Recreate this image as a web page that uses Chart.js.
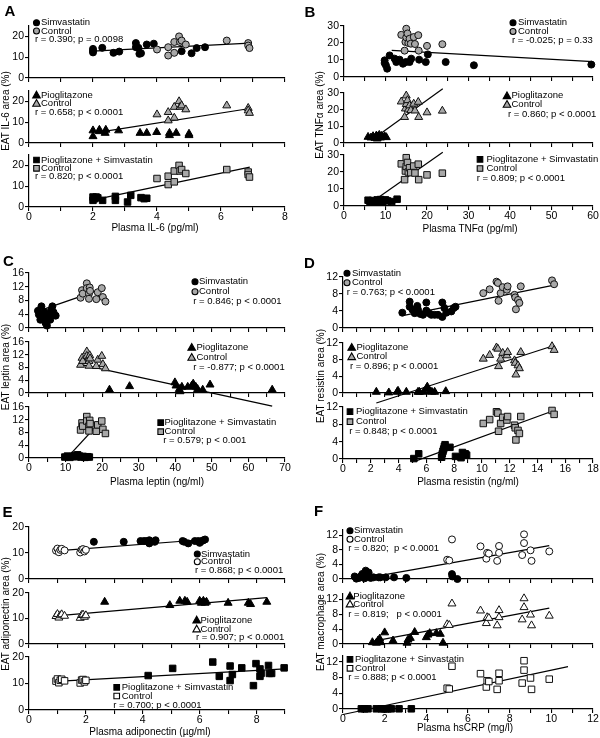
<!DOCTYPE html>
<html>
<head>
<meta charset="utf-8">
<script src="https://cdn.jsdelivr.net/npm/chart.js@4.4.1/dist/chart.umd.min.js"></script>
<style>
  body { margin: 0; width: 600px; height: 738px; background: #fff; position: relative; overflow: hidden;
         font-family: "Liberation Sans", Arial, sans-serif; color: #000; }
  canvas { position: absolute; }
  .txt { position: absolute; white-space: nowrap; font-size: 10px; line-height: 1; transform: translate(-50%, -50%); }
  .ytl { transform: translate(-50%, -50%) rotate(-90deg); }
  .letter { font-weight: bold; font-size: 15px; }
</style>
</head>
<body>
<script>
// ---- A: IL-6 ----
const ilCtrlX = [4.0, 4.35, 4.35, 4.54, 4.54, 4.69, 4.72, 4.77, 4.9, 6.18, 6.85, 6.85, 6.89];
const ilCtrlY = [13.7, 10.8, 14.8, 12.1, 17.3, 20.0, 17.3, 18.0, 16.1, 18.0, 16.8, 15.6, 14.4];
const ilSimX = [2.0, 2.0, 2.0, 2.29, 2.64, 2.82, 3.34, 3.34, 3.42, 3.45, 3.5, 3.68, 3.9, 4.77, 5.08, 5.24, 5.5];
const ilSimY = [14.0, 13.0, 12.3, 14.5, 12.1, 12.7, 16.8, 14.8, 14.5, 11.6, 11.9, 16.1, 16.5, 12.9, 11.9, 14.4, 14.8];
const ilPioX = [2.0, 2.0, 2.2, 2.2, 2.38, 2.4, 2.8, 3.47, 3.68, 3.99, 4.39, 4.39, 4.6, 5.0, 5.0];
const ilPioY = [6.0, 3.2, 5.6, 6.3, 4.8, 6.3, 6.0, 4.8, 4.8, 5.2, 4.8, 3.7, 4.8, 4.4, 3.7];
const ilPsX = [2.0, 2.0, 2.05, 2.1, 2.15, 2.3, 2.7, 2.7, 3.08, 3.18, 3.5, 3.6, 3.68];
const ilPsY = [4.8, 3.2, 4.0, 4.8, 4.4, 3.2, 5.1, 3.2, 2.4, 5.6, 4.5, 4.0, 4.2];
const ilFit = [[2.0, 12.9, 6.9, 16.8], [2.3, 5.5, 6.9, 16.6], [2.2, 4.0, 6.9, 19.2]];
const ilStats = ["r = 0.390; p = 0.0098", "r = 0.658; p < 0.0001", "r = 0.820; p < 0.0001"];
const ilXTicks = [0, 1, 2, 3, 4, 5, 6, 7, 8];
const ilXLabels = [0, 2, 4, 6, 8];
const ilYTicks = [0, 10, 20];

// ---- B: TNF-alpha ----
const tnCtrlX = [13.8, 14.6, 14.8, 15.0, 15.0, 15.3, 15.5, 15.8, 16.1, 16.8, 17.1, 17.9, 18.0, 20.0, 23.7];
const tnCtrlY = [24.8, 15.5, 20.6, 28.4, 23.3, 25.6, 20.0, 22.5, 19.6, 23.5, 19.4, 24.6, 15.5, 18.3, 19.3];
const tnSimX = [9.8, 9.8, 10.1, 10.4, 11.0, 12.2, 12.6, 13.4, 14.2, 14.9, 15.8, 16.2, 18.1, 19.7, 20.2, 24.5, 31.3, 59.6];
const tnSimY = [9.8, 8.2, 6.9, 4.9, 12.7, 10.8, 8.8, 10.2, 7.8, 8.8, 8.8, 10.8, 10.2, 8.8, 13.3, 8.8, 6.9, 7.3];
const tnPioX = [5.8, 6.5, 7.0, 7.5, 7.8, 8.0, 8.2, 8.5, 8.8, 9.0, 9.3, 9.8, 10.2];
const tnPioY = [3.6, 3.2, 4.0, 3.0, 4.4, 2.6, 3.8, 4.8, 3.2, 4.2, 3.6, 4.0, 3.4];
const tnPsX = [5.8, 6.2, 6.8, 7.5, 8.0, 8.3, 8.8, 9.2, 9.6, 10.0, 10.5, 11.5, 12.8];
const tnPsY = [3.4, 2.8, 3.2, 2.2, 3.6, 2.8, 3.8, 2.4, 3.2, 3.6, 3.0, 2.6, 4.0];
const tnFit = [[11.5, 15.7, 60, 9.0], [6.5, 1.5, 23.8, 32.5], [5.6, 0.4, 23.8, 31.6]];
const tnStats = ["r = -0.025; p = 0.33", "r = 0.860; p < 0.0001", "r = 0.809; p < 0.0001"];
const tnXTicks = [0, 5, 10, 15, 20, 25, 30, 35, 40, 45, 50, 55, 60];
const tnXLabels = [0, 10, 20, 30, 40, 50, 60];
const tnYTicks = [0, 10, 20, 30];

// ---- C: leptin ----
const lpCtrlX = [14.1, 14.5, 14.7, 15.8, 15.8, 16.4, 16.4, 16.6, 16.7, 18.4, 18.8, 19.9, 20.2, 20.9];
const lpCtrlY = [8.8, 11.0, 10.0, 13.0, 11.6, 10.0, 8.5, 11.8, 10.8, 8.4, 10.4, 11.6, 9.0, 7.7];
const lpSimX = [2.45, 3.4, 2.7, 3.1, 3.8, 4.3, 4.5, 4.9, 4.7, 5.5, 5.8, 6.1, 6.4, 6.7, 7.3, 3.4];
const lpSimY = [5.0, 6.3, 3.9, 2.4, 3.4, 4.6, 1.5, 0.7, 2.9, 3.9, 2.4, 5.3, 6.3, 4.6, 3.6, 3.6];
const lpPioX = [22.0, 27.5, 39.9, 40.2, 41.1, 41.3, 41.8, 43.4, 44.5, 44.9, 45.6, 46.1, 47.5, 49.5, 66.5];
const lpPioY = [1.0, 2.1, 3.3, 2.3, 1.2, 0.5, 1.9, 1.9, 2.3, 2.9, 1.9, 1.2, 1.0, 2.6, 1.0];
const lpPsX = [9.8, 10.5, 11.2, 12.0, 12.5, 13.0, 13.3, 13.8, 14.2, 14.8, 15.3, 16.0, 16.5];
const lpPsY = [0.3, 0.6, 0.2, 0.5, 0.8, 0.4, 1.0, 0.6, 0.3, 0.5, 0.2, 0.4, 0.3];
const lpFit = [[2.5, 4.9, 20.7, 11.6], [14.0, 9.0, 66.5, -4.1], [10.2, -0.2, 20.0, 12.0]];
const lpStats = ["r = 0.846; p < 0.0001", "r = -0.877; p < 0.0001", "r = 0.579; p < 0.001"];
const lpXTicks = [0, 5, 10, 15, 20, 25, 30, 35, 40, 45, 50, 55, 60, 65, 70];
const lpXLabels = [0, 10, 20, 30, 40, 50, 60, 70];
const lpYTicks = [0, 4, 8, 12, 16];

// ---- D: resistin ----
const rsCtrlX = [10.1, 10.56, 11.05, 11.15, 11.2, 11.35, 11.5, 11.8, 11.85, 12.35, 12.4, 12.45, 12.6, 12.7, 12.8, 15.05, 15.2];
const rsCtrlY = [8.2, 9.1, 10.9, 10.6, 6.4, 8.2, 9.6, 9.0, 9.8, 7.8, 7.2, 4.4, 6.6, 5.9, 9.8, 11.2, 10.3];
const rsSimX = [4.27, 4.8, 4.8, 5.0, 5.16, 5.35, 5.4, 5.57, 5.76, 6.0, 6.0, 6.19, 6.36, 6.6, 6.84, 7.15, 7.15, 7.3, 7.44, 7.8, 7.97, 8.1];
const rsSimY = [3.6, 6.2, 5.0, 4.3, 3.5, 5.2, 4.3, 3.3, 3.1, 6.0, 4.1, 3.5, 3.1, 3.1, 3.1, 2.6, 6.0, 4.7, 3.6, 3.9, 4.7, 5.0];
const rsPioX = [2.4, 3.3, 3.9, 3.96, 4.56, 5.4, 5.5, 5.8, 6.0, 6.07, 6.24, 6.4, 6.6, 7.4];
const rsPioY = [0.25, 0.1, 0.25, 0.5, 0.25, 0.25, 0.25, 0.25, 1.0, 1.5, 0.4, 0.25, 0.25, 0.4];
const rsPsX = [5.1, 5.45, 7.1, 7.15, 7.2, 7.25, 7.3, 7.35, 7.7, 8.1, 8.5, 8.6, 8.8, 8.9];
const rsPsY = [0.1, 1.2, 0.4, 1.2, 1.8, 2.3, 2.9, 3.3, 2.7, 0.6, 0.3, 1.5, 1.2, 0.9];
const rsFit = [[4.3, 2.9, 15.2, 10.1], [2.4, -2.4, 15.2, 11.4], [5.2, -0.5, 15.2, 11.2]];
const rsStats = ["r = 0.763; p < 0.0001", "r = 0.896; p < 0.0001", "r = 0.848; p < 0.0001"];
const rsXTicks = [0, 1, 2, 3, 4, 5, 6, 7, 8, 9, 10, 11, 12, 13, 14, 15, 16, 17, 18];
const rsXLabels = [0, 2, 4, 6, 8, 10, 12, 14, 16, 18];
const rsYTicks = [0, 4, 8, 12];

// ---- E: adiponectin ----
const adCtrlX = [0.95, 1.0, 1.05, 1.1, 1.15, 1.25, 1.8, 1.85, 1.9, 1.95, 2.0];
const adCtrlY = [10.9, 11.7, 10.3, 11.2, 11.6, 11.0, 10.2, 11.3, 11.5, 10.6, 11.2];
const adSimX = [2.28, 3.33, 3.92, 4.04, 4.13, 4.23, 4.23, 4.42, 4.45, 5.4, 5.46, 5.6, 5.83, 5.95, 6.0, 6.07, 6.13, 6.19];
const adSimY = [14.3, 14.3, 14.6, 14.6, 14.6, 14.9, 13.7, 14.3, 14.9, 14.6, 14.3, 13.7, 14.6, 14.6, 13.9, 14.6, 14.9, 15.2];
const adPioX = [2.66, 4.95, 5.3, 5.48, 5.56, 6.0, 6.06, 6.13, 6.19, 6.24, 7.0, 7.71, 7.79, 8.36];
const adPioY = [16.5, 15.2, 16.9, 16.9, 16.5, 16.9, 16.1, 16.9, 16.1, 16.5, 16.1, 16.1, 15.6, 16.5];
const adPsX = [4.19, 5.05, 6.46, 6.69, 7.07, 7.07, 7.15, 7.48, 7.89, 7.98, 8.12, 8.12, 8.16, 8.42, 8.45, 8.53, 8.97];
const adPsY = [13.0, 15.7, 18.1, 12.7, 16.6, 11.1, 13.4, 15.9, 9.2, 17.5, 15.5, 12.7, 13.8, 16.8, 13.8, 13.8, 15.9];
const adFit = [[0.96, 10.8, 6.19, 15.2], [0.96, 11.0, 8.36, 18.2], [0.96, 10.8, 9.0, 15.5]];
const adStats = ["r = 0.868; p < 0.0001", "r = 0.907; p < 0.0001", "r = 0.700; p < 0.0001"];
const adXTicks = [0, 1, 2, 3, 4, 5, 6, 7, 8, 9];
const adXLabels = [0, 2, 4, 6, 8];
const adYTicks = [0, 10, 20];

// ---- F: hsCRP ----
const crCtrlX = [5.0, 5.1, 5.23, 6.6, 6.88, 6.92, 7.0, 7.4, 7.49, 7.49, 8.6, 8.69, 8.69, 9.0, 9.05, 9.9];
const crCtrlY = [5.3, 5.1, 10.9, 9.0, 5.6, 7.2, 7.0, 5.0, 9.1, 7.2, 6.6, 12.3, 9.9, 7.9, 5.0, 7.6];
const crSimX = [0.56, 0.64, 0.77, 0.88, 0.93, 1.04, 1.09, 1.12, 1.17, 1.23, 1.28, 1.33, 1.47, 1.71, 1.79, 2.05, 2.45, 3.04, 5.23, 5.25, 5.49];
const crSimY = [0.7, 0.1, 0.3, 0.9, 1.4, 0.2, 2.3, 0.7, 1.4, 1.8, 0.7, 0.3, 0.45, 0.45, 0.45, 0.45, 0.45, 0.3, 1.35, 0.7, 0.0];
const crPioX = [1.41, 1.6, 1.68, 1.76, 1.81, 2.0, 2.4, 3.07, 3.12, 3.23, 3.44, 4.0, 4.08, 4.16, 4.48, 4.67, 4.8];
const crPioY = [0.45, 0.3, 0.9, 1.4, 0.45, 3.1, 0.9, 0.3, 1.15, 1.6, 3.2, 1.8, 2.5, 2.9, 2.9, 2.7, 0.3];
const crPsX = [0.88, 1.04, 1.2, 1.6, 1.84, 1.95, 2.05, 2.16, 2.32, 2.69, 3.28];
const crPsY = [0.05, 0.05, 0.05, 0.05, 0.05, 0.05, 0.05, 0.05, 0.05, 0.05, 0.05];
const crFit = [[1.2, 0.4, 9.9, 9.2], [1.4, 0.7, 9.9, 9.7], [0, -1.4, 10.8, 10.8]];
const crStats = ["r = 0.820;  p < 0.0001", "r = 0.819;   p < 0.0001", "r = 0.888; p < 0.0001"];
const crXTicks = [0, 1, 2, 3, 4, 5, 6, 7, 8, 9, 10, 11, 12];
const crXLabels = [0, 2, 4, 6, 8, 10, 12];
const crYTicks = [0, 4, 8, 12];

const groupNames = ["Simvastatin", "Pioglitazone", "Pioglitazone + Simvastatin"];
const groupNamesF = ["Simvastatin", "Pioglitazone", "Pioglitazone + Sinvastatin"];

// ---- layout ----
const FONT = '"Liberation Sans", Arial, sans-serif';
const PAD = { l: 40, t: 22, r: 22, b: 32 };
const YW = 28, XH = 20;
const SHAPES = ["circle", "triangle", "rect"];
const RAD = { circle: 3.5, triangle: 4.6, rect: 4.6 };
const GREY = "#a8a8a8";

function pts(xs, ys) {
  return xs.map((x, i) => ({ x: x, y: ys[i] }));
}

function drawMarker(ctx, shape, x, y, fill) {
  ctx.save();
  ctx.fillStyle = fill;
  ctx.strokeStyle = "#000";
  ctx.lineWidth = 1.1;
  ctx.beginPath();
  if (shape === "circle") {
    ctx.arc(x, y, 3, 0, Math.PI * 2);
  } else if (shape === "triangle") {
    ctx.moveTo(x, y - 3.8);
    ctx.lineTo(x + 3.8, y + 2.9);
    ctx.lineTo(x - 3.8, y + 2.9);
    ctx.closePath();
  } else {
    ctx.rect(x - 2.8, y - 2.8, 5.6, 5.6);
  }
  ctx.fill();
  ctx.stroke();
  ctx.restore();
}

const panels = [
  { L: 29, R: 285, rows: [[25.5, 77.5], [90.5, 142.5], [154.5, 206.5]], ymax: 25, xmax: 8,
    xTicks: ilXTicks, xLabels: ilXLabels, yTicks: ilYTicks, ctrlX: ilCtrlX, ctrlY: ilCtrlY,
    groups: [[ilSimX, ilSimY], [ilPioX, ilPioY], [ilPsX, ilPsY]], fits: ilFit, stats: ilStats,
    names: groupNames, ctrlFill: GREY,
    legends: [{ m: 36.5, t: 41, r: 35, y: [22.7, 31, 39.5] },
              { m: 36.5, t: 41, r: 35, y: [95, 103.3, 112.3] },
              { m: 36.5, t: 41, r: 35, y: [160, 168.3, 176.7] }] },
  { L: 344, R: 593, rows: [[25.7, 76.7], [92.5, 142.7], [155, 205.7]], ymax: 30, xmax: 60,
    xTicks: tnXTicks, xLabels: tnXLabels, yTicks: tnYTicks, ctrlX: tnCtrlX, ctrlY: tnCtrlY,
    groups: [[tnSimX, tnSimY], [tnPioX, tnPioY], [tnPsX, tnPsY]], fits: tnFit, stats: tnStats,
    names: groupNames, ctrlFill: GREY,
    legends: [{ m: 513, t: 518, r: 512, y: [22.7, 31.5, 40] },
              { m: 507, t: 511.5, r: 508, y: [95.7, 104.3, 114.5] },
              { m: 480, t: 486.5, r: 476.7, y: [159.3, 168.5, 178] }] },
  { L: 29, R: 285, rows: [[273.3, 328.3], [341.7, 393.3], [406.7, 458]], ymax: 16, xmax: 70,
    xTicks: lpXTicks, xLabels: lpXLabels, yTicks: lpYTicks, ctrlX: lpCtrlX, ctrlY: lpCtrlY,
    groups: [[lpSimX, lpSimY], [lpPioX, lpPioY], [lpPsX, lpPsY]], fits: lpFit, stats: lpStats,
    names: groupNames, ctrlFill: GREY,
    legends: [{ m: 195, t: 199, r: 193.3, y: [281.7, 291.7, 301.7] },
              { m: 191.7, t: 196.5, r: 193.3, y: [347.3, 357.3, 367.5] },
              { m: 160.7, t: 164.5, r: 163.3, y: [422.7, 431.7, 440.7] }] },
  { L: 343, R: 593, rows: [[276.7, 328.3], [343.3, 393.3], [406.7, 459.3]], ymax: 12, xmax: 18,
    xTicks: rsXTicks, xLabels: rsXLabels, yTicks: rsYTicks, ctrlX: rsCtrlX, ctrlY: rsCtrlY,
    groups: [[rsSimX, rsSimY], [rsPioX, rsPioY], [rsPsX, rsPsY]], fits: rsFit, stats: rsStats,
    names: groupNames, ctrlFill: GREY,
    legends: [{ m: 347, t: 352, r: 346.7, y: [273.3, 282.7, 292.7] },
              { m: 351.7, t: 356.5, r: 350, y: [347.3, 356.7, 366.5] },
              { m: 350, t: 356, r: 349.3, y: [411.7, 421.7, 431.7] }] },
  { L: 29, R: 285, rows: [[526.7, 579.3], [592.7, 644.3], [657.3, 710]], ymax: 20, xmax: 9,
    xTicks: adXTicks, xLabels: adXLabels, yTicks: adYTicks, ctrlX: adCtrlX, ctrlY: adCtrlY,
    groups: [[adSimX, adSimY], [adPioX, adPioY], [adPsX, adPsY]], fits: adFit, stats: adStats,
    names: groupNames, ctrlFill: "#fff",
    legends: [{ m: 197.3, t: 201, r: 195, y: [554, 561.7, 570] },
              { m: 196.7, t: 200.5, r: 196, y: [620, 629, 637.3] },
              { m: 116.7, t: 121.7, r: 113.3, y: [687.3, 696, 705] }] },
  { L: 343, R: 593, rows: [[529.5, 579.3], [593.7, 644.3], [655.7, 709.3]], ymax: 13.5, xmax: 12,
    xTicks: crXTicks, xLabels: crXLabels, yTicks: crYTicks, ctrlX: crCtrlX, ctrlY: crCtrlY,
    groups: [[crSimX, crSimY], [crPioX, crPioY], [crPsX, crPsY]], fits: crFit, stats: crStats,
    names: groupNamesF, ctrlFill: "#fff",
    legends: [{ m: 350, t: 354, r: 348.3, y: [530.7, 539.3, 548.3] },
              { m: 350, t: 353.3, r: 348.3, y: [596, 604, 614] },
              { m: 350, t: 355, r: 348.3, y: [659.3, 668.3, 677.3] }] }
];

function axisStyle() {
  return {
    grid: { drawOnChartArea: false, drawTicks: true, tickLength: 4, color: "#000", lineWidth: 1.1 },
    border: { display: true, color: "#000", width: 1.2 }
  };
}

function buildSub(p, k) {
  const L = Math.round(p.L), R = Math.round(p.R);
  const T = Math.round(p.rows[k][0]), B = Math.round(p.rows[k][1]);
  const ox = L - PAD.l, oy = T - PAD.t;
  const cw = R - L + PAD.l + PAD.r, ch = B - T + PAD.t + PAD.b;
  const cv = document.createElement("canvas");
  cv.width = cw;
  cv.height = ch;
  cv.style.left = ox + "px";
  cv.style.top = oy + "px";
  cv.style.width = cw + "px";
  cv.style.height = ch + "px";
  document.body.appendChild(cv);

  const shape = SHAPES[k];
  const g = p.groups[k];
  const f = p.fits[k];
  const lg = p.legends[k];

  const legendPlugin = {
    id: "subLegend",
    afterDraw(chart) {
      const ctx = chart.ctx;
      ctx.save();
      ctx.font = "9.5px " + FONT;
      ctx.textBaseline = "middle";
      drawMarker(ctx, shape, lg.m - ox, lg.y[0] - oy, "#000");
      drawMarker(ctx, shape, lg.m - ox, lg.y[1] - oy, p.ctrlFill);
      ctx.fillStyle = "#000";
      ctx.fillText(p.names[k], lg.t - ox, lg.y[0] - oy);
      ctx.fillText("Control", lg.t - ox, lg.y[1] - oy);
      ctx.fillText(p.stats[k], lg.r - ox, lg.y[2] - oy);
      ctx.restore();
    }
  };

  new Chart(cv, {
    type: "scatter",
    data: {
      datasets: [
        { data: pts(p.ctrlX, p.ctrlY), pointStyle: shape, pointRadius: RAD[shape],
          backgroundColor: p.ctrlFill, borderColor: "#111", borderWidth: 1, clip: false },
        { data: pts(g[0], g[1]), pointStyle: shape, pointRadius: RAD[shape],
          backgroundColor: "#000", borderColor: "#000", borderWidth: 1, clip: false },
        { data: [{ x: f[0], y: f[1] }, { x: f[2], y: f[3] }], showLine: true, pointRadius: 0,
          borderColor: "#000", borderWidth: 1.2, clip: false }
      ]
    },
    options: {
      responsive: false,
      animation: false,
      layout: { padding: { left: PAD.l - YW, top: PAD.t, right: PAD.r, bottom: PAD.b - XH } },
      plugins: { legend: { display: false }, tooltip: { enabled: false } },
      scales: {
        x: Object.assign({
          type: "linear", min: 0, max: p.xmax,
          afterFit: (s) => { s.height = XH; },
          afterBuildTicks: (s) => { s.ticks = p.xTicks.map((v) => ({ value: v })); },
          ticks: {
            autoSkip: false, maxRotation: 0, padding: 0, color: "#000",
            font: { family: FONT, size: 10.5 },
            callback: (v) => (k === 2 && p.xLabels.includes(v)) ? String(v) : ""
          }
        }, axisStyle()),
        y: Object.assign({
          type: "linear", min: 0, max: p.ymax,
          afterFit: (s) => { s.width = YW; },
          afterBuildTicks: (s) => { s.ticks = p.yTicks.map((v) => ({ value: v })); },
          ticks: { autoSkip: false, padding: 1, color: "#000", font: { family: FONT, size: 10.5 },
                   callback: (v) => String(v) }
        }, axisStyle())
      }
    },
    plugins: [legendPlugin]
  });
}

function addText(text, x, y, cls) {
  const d = document.createElement("div");
  d.className = "txt " + (cls || "");
  d.textContent = text;
  d.style.left = x + "px";
  d.style.top = y + "px";
  document.body.appendChild(d);
}

panels.forEach((p) => { [0, 1, 2].forEach((k) => buildSub(p, k)); });

const xTitles = [["Plasma IL-6 (pg/ml)", 155, 227.5], ["Plasma TNFα (pg/ml)", 470, 228.5],
  ["Plasma leptin (ng/ml)", 157, 482], ["Plasma resistin (ng/ml)", 468, 482],
  ["Plasma adiponectin (µg/ml)", 150, 731.5], ["Plasma hsCRP (mg/l)", 465, 727.5]];
const yTitles = [["EAT IL-6 area (%)", 6, 111], ["EAT TNFα area (%)", 320, 115],
  ["EAT leptin area (%)", 6, 367], ["EAT resistin area (%)", 321, 376],
  ["EAT adiponectin area (%)", 6, 614], ["EAT macrophage area (%)", 321, 612]];
const letters = [["A", 10, 10], ["B", 310, 10.5], ["C", 8.5, 260], ["D", 309.5, 261.5], ["E", 7.5, 510.5], ["F", 318.5, 510]];

xTitles.forEach((t) => addText(t[0], t[1], t[2]));
yTitles.forEach((t) => addText(t[0], t[1], t[2], "ytl"));
letters.forEach((t) => addText(t[0], t[1], t[2], "letter"));
</script>
</body>
</html>
